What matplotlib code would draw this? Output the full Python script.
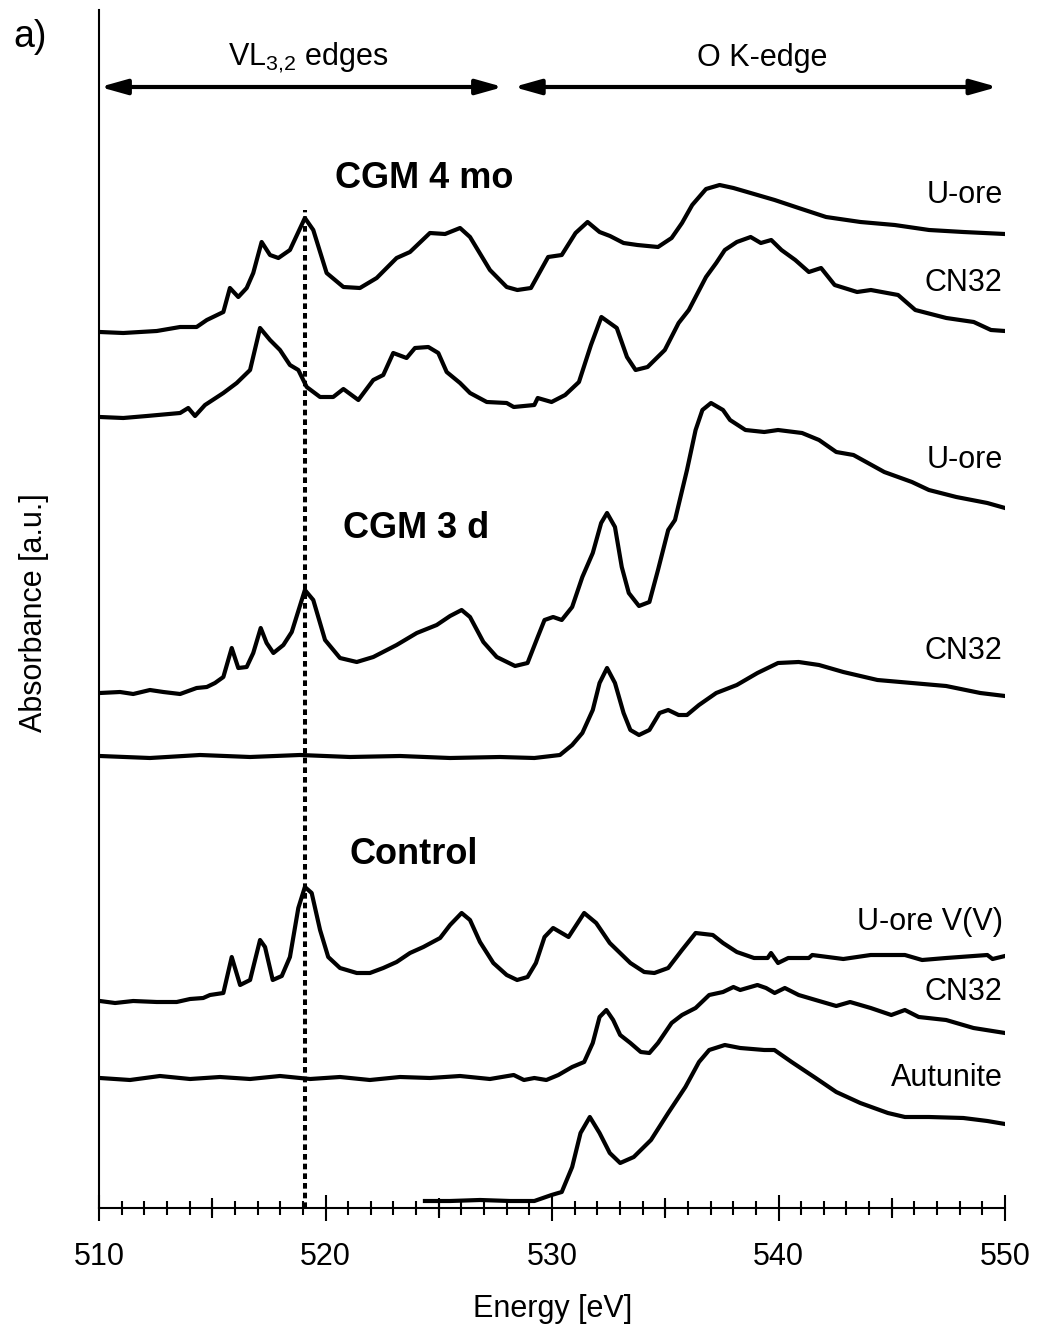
import numpy as np
import matplotlib
matplotlib.use("Agg")
import matplotlib.pyplot as plt
from matplotlib.ticker import MultipleLocator
from matplotlib.patches import ArrowStyle

plt.rcParams["font.family"] = ["Liberation Sans", "DejaVu Sans"]
plt.rcParams["mathtext.fontset"] = "custom"
plt.rcParams["mathtext.rm"] = "Liberation Sans"
plt.rcParams["mathtext.default"] = "regular"

# spectra: (energy eV, absorbance a.u., offset already included)
cgm4_uore = [(510.04, 8.76), (511.07, 8.75), (512.55, 8.77), (513.58, 8.81), (514.31, 8.81),
             (514.76, 8.88), (515.49, 8.96), (515.78, 9.20), (516.15, 9.11), (516.52, 9.20),
             (516.81, 9.35), (517.18, 9.66), (517.55, 9.53), (517.92, 9.50), (518.43, 9.58),
             (519.09, 9.90), (519.46, 9.78), (520.05, 9.35), (520.79, 9.21), (521.52, 9.20),
             (522.26, 9.30), (523.14, 9.50), (523.73, 9.56), (524.61, 9.75), (525.28, 9.74),
             (525.94, 9.80), (526.38, 9.71), (527.26, 9.38), (528.00, 9.21), (528.47, 9.18),
             (529.07, 9.20), (529.83, 9.51), (530.43, 9.53), (531.04, 9.75), (531.57, 9.86),
             (532.10, 9.76), (532.56, 9.72), (533.16, 9.65), (533.77, 9.63), (534.68, 9.61),
             (535.28, 9.70), (535.74, 9.85), (536.19, 10.03), (536.80, 10.19), (537.40, 10.23),
             (538.01, 10.20), (538.77, 10.15), (539.83, 10.08), (540.89, 10.00), (542.10, 9.91),
             (543.62, 9.86), (545.13, 9.83), (546.65, 9.78), (548.16, 9.76), (550.0, 9.74)]

cgm4_cn32 = [(510.04, 7.91), (511.07, 7.90), (512.11, 7.92), (513.58, 7.95), (513.94, 8.00),
             (514.24, 7.92), (514.68, 8.03), (515.49, 8.15), (516.08, 8.25), (516.67, 8.38),
             (517.11, 8.80), (517.55, 8.68), (517.99, 8.58), (518.43, 8.43), (518.80, 8.38),
             (519.17, 8.21), (519.76, 8.11), (520.34, 8.11), (520.79, 8.19), (521.45, 8.08),
             (522.11, 8.28), (522.55, 8.33), (522.99, 8.55), (523.58, 8.50), (523.95, 8.60),
             (524.54, 8.61), (524.98, 8.55), (525.35, 8.36), (525.94, 8.25), (526.38, 8.15),
             (527.12, 8.06), (528.00, 8.05), (528.31, 8.01), (529.22, 8.03), (529.37, 8.10),
             (529.98, 8.06), (530.58, 8.13), (531.19, 8.26), (531.72, 8.63), (532.18, 8.91),
             (532.86, 8.80), (533.31, 8.51), (533.69, 8.38), (534.22, 8.41), (534.98, 8.58),
             (535.59, 8.85), (536.04, 8.98), (536.80, 9.31), (537.25, 9.45), (537.63, 9.58),
             (538.16, 9.66), (538.77, 9.71), (539.22, 9.65), (539.68, 9.68), (540.13, 9.58),
             (540.74, 9.48), (541.34, 9.36), (541.88, 9.40), (542.48, 9.23), (543.47, 9.16),
             (544.08, 9.18), (545.28, 9.13), (546.04, 8.98), (547.41, 8.90), (548.62, 8.86),
             (549.38, 8.78), (550.0, 8.77)]

cgm3_uore = [(510.04, 5.15), (510.93, 5.16), (511.51, 5.14), (512.25, 5.18), (512.84, 5.16),
             (513.58, 5.14), (514.31, 5.20), (514.76, 5.21), (515.12, 5.25), (515.49, 5.31),
             (515.86, 5.60), (516.15, 5.40), (516.52, 5.41), (516.81, 5.55), (517.14, 5.80),
             (517.40, 5.65), (517.70, 5.55), (518.14, 5.63), (518.51, 5.76), (519.09, 6.18),
             (519.46, 6.08), (519.98, 5.68), (520.64, 5.50), (521.38, 5.46), (522.11, 5.51),
             (523.14, 5.63), (524.03, 5.75), (524.91, 5.83), (525.50, 5.92), (526.01, 5.98),
             (526.38, 5.91), (526.97, 5.66), (527.56, 5.51), (528.37, 5.42), (528.92, 5.45),
             (529.37, 5.71), (529.67, 5.88), (530.05, 5.91), (530.43, 5.88), (530.89, 6.01),
             (531.34, 6.31), (531.80, 6.55), (532.17, 6.85), (532.43, 6.95), (532.78, 6.81),
             (533.08, 6.41), (533.39, 6.15), (533.84, 6.02), (534.30, 6.06), (534.68, 6.38),
             (535.13, 6.78), (535.43, 6.88), (535.96, 7.38), (536.34, 7.78), (536.64, 7.98),
             (537.02, 8.05), (537.55, 7.98), (537.86, 7.88), (538.54, 7.78), (539.37, 7.76),
             (539.98, 7.78), (541.04, 7.75), (541.79, 7.68), (542.55, 7.56), (543.31, 7.53),
             (544.67, 7.36), (545.89, 7.26), (546.64, 7.18), (547.85, 7.11), (549.22, 7.05),
             (550.0, 7.00)]

cgm3_cn32 = [(510.04, 4.52), (512.25, 4.50), (514.46, 4.53), (516.67, 4.51), (518.87, 4.53),
             (521.08, 4.51), (523.29, 4.52), (525.50, 4.50), (527.70, 4.51), (529.22, 4.50),
             (530.35, 4.53), (530.89, 4.63), (531.34, 4.75), (531.80, 4.98), (532.10, 5.25),
             (532.43, 5.40), (532.78, 5.25), (533.16, 4.95), (533.46, 4.78), (533.84, 4.73),
             (534.30, 4.78), (534.75, 4.95), (535.13, 4.98), (535.59, 4.93), (535.96, 4.93),
             (536.49, 5.03), (537.25, 5.15), (538.16, 5.23), (539.07, 5.35), (539.98, 5.45),
             (540.89, 5.46), (541.79, 5.43), (542.86, 5.36), (544.37, 5.28), (545.89, 5.25),
             (547.40, 5.22), (548.91, 5.15), (550.0, 5.12)]

ctrl_uore_v5 = [(510.04, 2.07), (510.71, 2.05), (511.51, 2.07), (512.55, 2.06), (513.43, 2.06),
                (514.02, 2.09), (514.60, 2.10), (514.90, 2.13), (515.49, 2.15), (515.86, 2.51),
                (516.23, 2.23), (516.67, 2.28), (517.11, 2.68), (517.33, 2.61), (517.67, 2.28),
                (518.07, 2.32), (518.43, 2.51), (518.80, 3.00), (519.09, 3.21), (519.39, 3.15),
                (519.76, 2.78), (520.12, 2.51), (520.64, 2.40), (521.38, 2.35), (521.96, 2.35),
                (522.55, 2.40), (523.14, 2.46), (523.73, 2.55), (524.32, 2.61), (525.06, 2.70),
                (525.50, 2.83), (526.01, 2.95), (526.38, 2.88), (526.82, 2.66), (527.41, 2.45),
                (528.00, 2.33), (528.46, 2.28), (528.92, 2.31), (529.29, 2.45), (529.67, 2.71),
                (530.05, 2.80), (530.73, 2.71), (531.42, 2.95), (531.95, 2.85), (532.55, 2.65),
                (533.46, 2.45), (534.07, 2.36), (534.52, 2.35), (535.13, 2.40), (535.74, 2.58),
                (536.34, 2.75), (537.10, 2.73), (537.55, 2.65), (538.16, 2.56), (538.92, 2.50),
                (539.52, 2.50), (539.67, 2.55), (539.98, 2.45), (540.43, 2.50), (541.34, 2.50),
                (541.49, 2.53), (542.86, 2.49), (544.07, 2.53), (545.58, 2.53), (546.34, 2.48),
                (547.40, 2.50), (549.22, 2.53), (549.45, 2.49), (550.0, 2.52)]

ctrl_cn32 = [(510.04, 1.30), (511.37, 1.28), (512.69, 1.32), (514.02, 1.29), (515.34, 1.31),
             (516.67, 1.29), (517.99, 1.32), (519.32, 1.29), (520.64, 1.31), (521.96, 1.28),
             (523.29, 1.31), (524.61, 1.30), (525.94, 1.32), (527.26, 1.29), (528.31, 1.33),
             (528.76, 1.28), (529.22, 1.30), (529.75, 1.28), (530.28, 1.33), (530.89, 1.41),
             (531.42, 1.46), (531.80, 1.65), (532.10, 1.91), (532.40, 1.98), (532.70, 1.88),
             (533.01, 1.73), (533.46, 1.65), (533.92, 1.56), (534.30, 1.55), (534.68, 1.65),
             (535.28, 1.85), (535.74, 1.93), (536.34, 2.00), (536.94, 2.13), (537.55, 2.16),
             (538.01, 2.21), (538.31, 2.18), (539.07, 2.23), (539.45, 2.20), (539.83, 2.15),
             (540.28, 2.20), (540.89, 2.13), (541.64, 2.08), (542.55, 2.02), (543.16, 2.06),
             (544.07, 2.00), (544.98, 1.93), (545.58, 1.98), (546.19, 1.91), (547.40, 1.88),
             (548.61, 1.80), (550.0, 1.75)]

autunite = [(524.39, 0.07), (525.50, 0.07), (526.82, 0.08), (528.15, 0.07), (529.22, 0.07),
            (529.98, 0.13), (530.43, 0.16), (530.89, 0.41), (531.26, 0.75), (531.67, 0.91),
            (532.10, 0.75), (532.55, 0.55), (533.01, 0.45), (533.61, 0.51), (534.37, 0.68),
            (535.13, 0.95), (535.89, 1.21), (536.49, 1.46), (536.94, 1.58), (537.63, 1.63),
            (538.31, 1.60), (539.37, 1.58), (539.82, 1.58), (540.58, 1.46), (541.64, 1.30),
            (542.55, 1.16), (543.61, 1.05), (544.83, 0.95), (545.58, 0.91), (546.64, 0.91),
            (548.16, 0.90), (549.22, 0.87), (550.0, 0.84)]

spectra = [cgm4_uore, cgm4_cn32, cgm3_uore, cgm3_cn32, ctrl_uore_v5, ctrl_cn32, autunite]
sample_labels = ["U-ore", "CN32", "U-ore", "CN32", "U-ore V(V)", "CN32", "Autunite"]
sample_label_y = [10.13, 9.25, 7.48, 5.57, 2.86, 2.16, 1.30]

group_labels = ["CGM 4 mo", "CGM 3 d", "Control"]
group_label_x = [520.42, 520.77, 521.04]
group_label_y = [10.30, 6.80, 3.53]

v_l3_peak = 519.1       # dotted line energy
v_l3_top = 9.98

fig = plt.figure(figsize=(10.38, 13.25), dpi=100)
ax = fig.add_axes([99 / 1038, 117 / 1325, 906 / 1038, 1198 / 1325])

for spec in spectra:
    arr = np.array(spec)
    ax.plot(arr[:, 0], arr[:, 1], color="black", lw=3.0, solid_joinstyle="round")

ax.vlines(v_l3_peak, 0, v_l3_top, colors="black", lw=2.9, linestyles=(0, (1.4, 1.0)))

for lab, yy in zip(sample_labels, sample_label_y):
    ax.text(549.9, yy, lab, ha="right", va="center", fontsize=22)

for lab, xx, yy in zip(group_labels, group_label_x, group_label_y):
    ax.text(xx, yy, lab, ha="left", va="center", fontsize=26, fontweight="bold")

# edge ranges with double arrows
astyle = ArrowStyle("<|-|>", head_length=1.6, head_width=0.45)
ax.annotate("", xy=(510.04, 11.21), xytext=(527.84, 11.21),
            arrowprops=dict(arrowstyle=astyle, lw=3, color="black", shrinkA=0, shrinkB=0,
                            mutation_scale=10))
ax.annotate("", xy=(528.31, 11.21), xytext=(549.67, 11.21),
            arrowprops=dict(arrowstyle=astyle, lw=3, color="black", shrinkA=0, shrinkB=0,
                            mutation_scale=10))
ax.text(519.25, 11.43, r"VL$_{3{,}2}$ edges", ha="center", va="baseline", fontsize=22)
ax.text(539.27, 11.42, "O K-edge", ha="center", va="baseline", fontsize=22)

ax.set_xlim(510, 550)
ax.set_ylim(0, 11.98)
ax.set_yticks([])
ax.spines["top"].set_visible(False)
ax.spines["right"].set_visible(False)
ax.spines["left"].set_linewidth(1.5)
ax.spines["bottom"].set_linewidth(1.5)

ax.xaxis.set_major_locator(MultipleLocator(10))
ax.xaxis.set_minor_locator(MultipleLocator(1))
ax.tick_params(axis="x", which="major", direction="inout", length=19.4, width=1.5,
               labelsize=22, pad=15)
ax.tick_params(axis="x", which="minor", direction="inout", length=9.4, width=1.5)

sec = ax.secondary_xaxis("bottom")
sec.set_xticks([515, 525, 535, 545])
sec.tick_params(axis="x", direction="inout", length=14.4, width=1.5, labelbottom=False)
sec.spines["bottom"].set_visible(False)

ax.set_xlabel("Energy [eV]", fontsize=22)
ax.xaxis.set_label_coords(0.501, -0.072)
ax.set_ylabel("Absorbance [a.u.]", fontsize=22)
ax.yaxis.set_label_coords(-0.055, 0.497)

fig.text(13 / 1038, 1 - 47 / 1325, "a)", fontsize=27, va="baseline", ha="left")

fig.savefig("out.png", dpi=100)
